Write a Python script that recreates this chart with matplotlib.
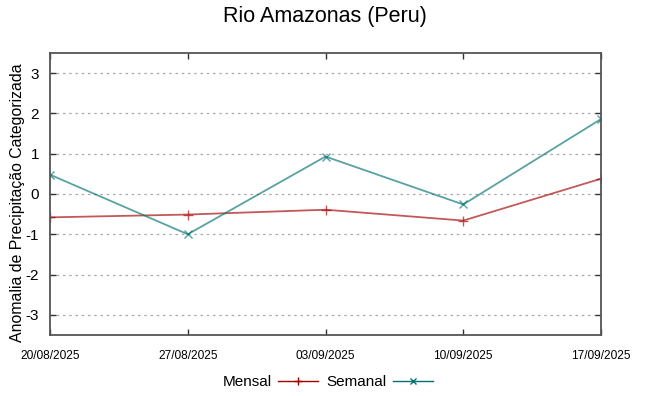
import matplotlib.pyplot as plt
from matplotlib.lines import Line2D
import numpy as np

plt.rcParams['font.family'] = ['Liberation Sans', 'DejaVu Sans']

datas = ["20/08/2025", "27/08/2025", "03/09/2025", "10/09/2025", "17/09/2025"]
mensal = [-0.58, -0.51, -0.39, -0.66, 0.38]
semanal = [0.48, -1.0, 0.93, -0.26, 1.86]
yticks = [-3, -2, -1, 0, 1, 2, 3]

cor_mensal = "#a00000"
cor_semanal = "#007070"

fig = plt.figure(figsize=(6.49, 3.96), dpi=100)
ax = fig.add_axes([50 / 649, 1 - 335 / 396, 551 / 649, 282 / 396])

x = np.arange(len(datas))
ax.plot(x, mensal, color=cor_mensal, alpha=0.65, lw=1.3, marker="+", ms=7, mew=1.0)
ax.plot(x, semanal, color=cor_semanal, alpha=0.65, lw=1.3, marker="x", ms=6, mew=1.0)

ax.set_xlim(x[0], x[-1])
ax.set_ylim(-3.5, 3.5)
ax.set_xticks(x)
ax.set_xticklabels(datas, fontsize=8.6)
ax.set_yticks(yticks)
ax.set_yticklabels([str(v) for v in yticks], fontsize=11)
ax.tick_params(direction="in", top=True, right=True, length=4, width=1, color="#333333")
ax.tick_params(axis="x", pad=11)
ax.tick_params(axis="y", pad=8)
ax.yaxis.grid(True, ls=(0, (2, 3)), color="#aaaaaa", lw=0.9)
ax.set_axisbelow(True)
for s in ax.spines.values():
    s.set_color("#555555")
    s.set_linewidth(1.3)

ax.set_ylabel("Anomalia de Precipitação Categorizada", fontsize=11.4, labelpad=0)
ax.yaxis.set_label_coords(-0.045, 0.47)
fig.suptitle("Rio Amazonas (Peru)", fontsize=15.5, y=0.985)

handles = [
    Line2D([], [], color=cor_mensal, lw=1, marker="+", ms=6),
    Line2D([], [], color=cor_semanal, lw=1, marker="x", ms=5),
]
fig.legend(handles, ["Mensal", "Semanal"], loc="center", bbox_to_anchor=(0.505, 1 - 382 / 396),
           ncol=2, frameon=False, markerfirst=False, fontsize=11, handlelength=2.6,
           columnspacing=0.6, handletextpad=0.4)

fig.savefig("out.png", dpi=100)
